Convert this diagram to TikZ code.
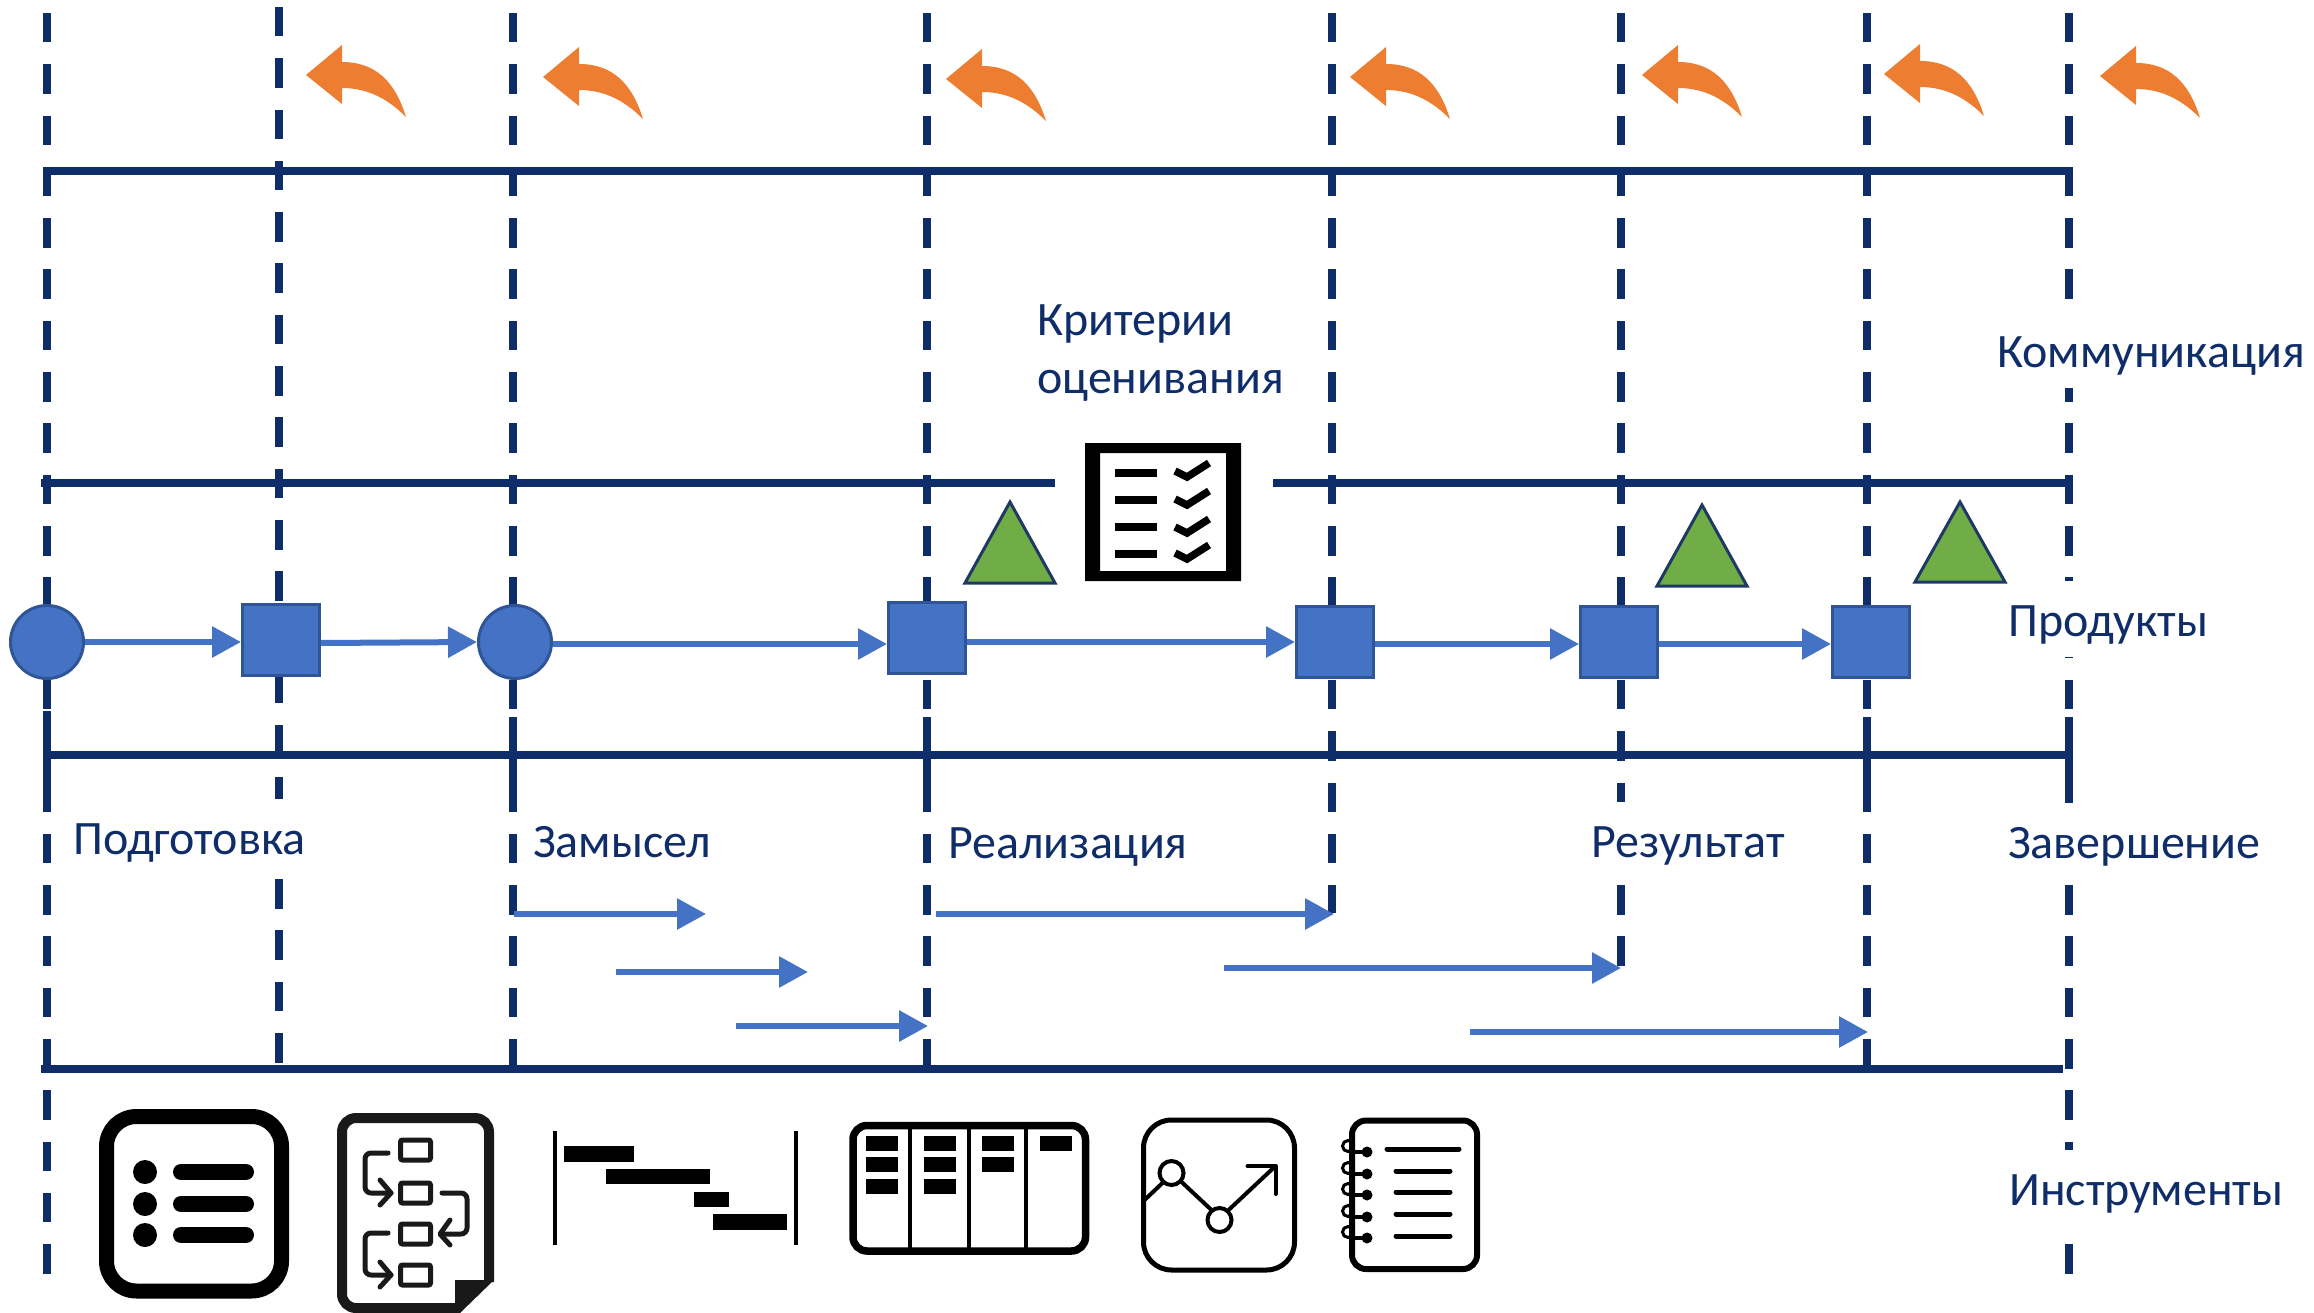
\documentclass[tikz,border=0pt]{standalone}
\usepackage{fontspec}
\setmainfont{Carlito}
\usetikzlibrary{arrows.meta}
\definecolor{navy}{HTML}{0F2D69}
\definecolor{flowblue}{HTML}{4472C4}
\definecolor{edgeblue}{HTML}{2F5597}
\definecolor{orangeback}{HTML}{ED7D31}
\definecolor{leaf}{HTML}{70AD47}
\definecolor{leafedge}{HTML}{1F3864}
\tikzset{
  dashline/.style={draw=navy,line width=8pt,dash pattern=on 29.5pt off 21.8pt},
  solidline/.style={draw=navy,line width=8pt},
  label/.style={text=navy,fill=white,inner sep=0pt,anchor=base west,text height=55pt,text depth=21pt,font=\fontsize{48}{56}\selectfont},
  plainlabel/.style={text=navy,inner sep=0pt,align=left,font=\fontsize{48}{58}\selectfont},
  squarenode/.style={draw=edgeblue,fill=flowblue,line width=3pt,rectangle,inner sep=0pt,minimum width=77pt,minimum height=71pt},
  circlenode/.style={draw=edgeblue,fill=flowblue,line width=3pt,circle,inner sep=0pt,minimum size=73pt},
  flow/.style={draw=flowblue,line width=6pt,-{Triangle[length=29pt,width=30pt]}},
  tri/.style={draw=leafedge,fill=leaf,line width=3pt,line join=miter},
  back/.style={fill=orangeback},
  ink/.style={draw=black,line cap=round,line join=round},
}
\newcommand{\backarrow}[2]{%
  \fill[back,shift={(#1-946,#2-79)}] (946,79) -- (982,49) -- (982,66)
    .. controls (1015,66) and (1035,85) .. (1046,121)
    .. controls (1030,105) and (1010,92) .. (982,92) -- (982,108) -- cycle;}
\begin{document}
\begin{tikzpicture}[x=1pt,y=-1pt]
\useasboundingbox (0,0) rectangle (2314,1313);
% vertical phase lines
\draw[dashline] (47,13) -- (47,1274);
\draw[dashline] (279,7) -- (279,1063);
\draw[dashline] (513,13) -- (513,1069);
\draw[dashline] (927,13) -- (927,1069);
\draw[dashline] (1332,13) -- (1332,913);
\draw[dashline] (1621,13) -- (1621,966);
\draw[dashline] (1867,13) -- (1867,1069);
\draw[dashline] (2069,13) -- (2069,1274);
% solid stubs
\draw[solidline] (47,711) -- (47,786);
\draw[solidline] (513,717) -- (513,792);
\draw[solidline] (927,717) -- (927,792);
\draw[solidline] (1867,717) -- (1867,792);
\draw[solidline] (2069,717) -- (2069,802);
% horizontal lines
\draw[solidline] (43,171) -- (2073,171);
\draw[solidline] (41,483) -- (1055,483);
\draw[solidline] (1273,483) -- (2073,483);
\draw[solidline] (47,755) -- (2073,755);
\draw[solidline] (41,1069) -- (2063,1069);
% labels
\node[label] (tcomm) at (1997,367) {Коммуникация};
\node[label] (tprod) at (2008,636) {Продукты};
\node[label] (tprep) at (73,854) {Подготовка};
\node[label] (tidea) at (533,857) {Замысел};
\node[label] (treal) at (948,858) {Реализация};
\node[label] (tres) at (1591,857) {Результат};
\node[label] (tend) at (2008,858) {Завершение};
\node[label] (ttool) at (2009,1205) {Инструменты};
\node[plainlabel,anchor=west] (tcrit) at (1037,353) {Критерии\\оценивания};
% back arrows
\backarrow{306}{75}
\backarrow{543}{77}
\backarrow{946}{79}
\backarrow{1350}{77}
\backarrow{1642}{75}
\backarrow{1884}{74}
\backarrow{2100}{76}
% triangles
\draw[tri] (1010,502) -- (1055,583) -- (965,583) -- cycle;
\draw[tri] (1702,505) -- (1747,586) -- (1657,586) -- cycle;
\draw[tri] (1960,502) -- (2005,582) -- (1915,582) -- cycle;
% process nodes
\node[circlenode] (c1) at (47,642) {};
\node[squarenode] (s1) at (281,640) {};
\node[circlenode] (c2) at (515,642) {};
\node[squarenode] (s2) at (927,638) {};
\node[squarenode] (s3) at (1335,642) {};
\node[squarenode] (s4) at (1619,642) {};
\node[squarenode] (s5) at (1871,642) {};
\draw[flow] (c1.east) -- ([yshift=-2pt]s1.west);
\draw[flow] ([yshift=-3pt]s1.east) -- (c2.west);
\draw[flow] ([yshift=-2pt]c2.east) -- ([yshift=-6pt]s2.west);
\draw[flow] ([yshift=-4pt]s2.east) -- (s3.west);
\draw[flow] ([yshift=-2pt]s3.east) -- ([yshift=-2pt]s4.west);
\draw[flow] ([yshift=-2pt]s4.east) -- ([yshift=-2pt]s5.west);
% lower arrows
\coordinate (a1s) at (514,914); \coordinate (a1e) at (706,914);
\coordinate (a2s) at (616,972); \coordinate (a2e) at (808,972);
\coordinate (a3s) at (736,1026); \coordinate (a3e) at (928,1026);
\coordinate (a4s) at (936,914); \coordinate (a4e) at (1334,914);
\coordinate (a5s) at (1224,968); \coordinate (a5e) at (1621,968);
\coordinate (a6s) at (1470,1032); \coordinate (a6e) at (1868,1032);
\draw[flow] (a1s) -- (a1e);
\draw[flow] (a2s) -- (a2e);
\draw[flow] (a3s) -- (a3e);
\draw[flow] (a4s) -- (a4e);
\draw[flow] (a5s) -- (a5e);
\draw[flow] (a6s) -- (a6e);
% checklist icon
\fill[black,even odd rule] (1085,443) rectangle (1241,581) (1100,453) rectangle (1226,571);
\foreach \yy/\cy in {473/0,500/28,527/56,554/82}{
  \fill[black] (1115,\yy-4) rectangle (1157,\yy+4);
  \draw[black,line width=7.5pt,line join=miter] (1175,471+\cy) -- (1187,477+\cy) -- (1209,463+\cy);
}
% list icon
\draw[black,line width=15pt,rounded corners=30pt] (106.5,1116.5) rectangle (281.5,1291);
\foreach \yy in {1172,1204,1235}{
  \fill[black] (145,\yy) circle (12);
  \draw[black,line width=16pt,line cap=round] (181,\yy) -- (246,\yy);
}
% flowchart document icon
\begin{scope}[xshift=-2pt]
\draw[color={black!90},line width=10pt,rounded corners=14pt] (462,1308) -- (344,1308) -- (344,1118) -- (491,1118) -- (491,1282);
\fill[black!90] (457,1280) -- (496,1280) -- (462,1313) -- (457,1313) -- cycle;
\foreach \yy in {1150,1193,1234,1275}{
  \draw[black!90,line width=5pt,rounded corners=2pt] (402.5,\yy-10) rectangle (432.5,\yy+10);
}
\draw[ink,black!90,line width=5pt,rounded corners=6pt] (390,1153) -- (367,1153) -- (367,1193) -- (393,1193);
\draw[ink,black!90,line width=5pt] (382,1180) -- (393,1193) -- (382,1205);
\draw[ink,black!90,line width=5pt,rounded corners=6pt] (444,1193) -- (469,1193) -- (469,1234) -- (443,1234);
\draw[ink,black!90,line width=5pt] (452,1220) -- (442,1234) -- (452,1245);
\draw[ink,black!90,line width=5pt,rounded corners=6pt] (390,1233) -- (367,1233) -- (367,1275) -- (393,1275);
\draw[ink,black!90,line width=5pt] (382,1262) -- (393,1275) -- (382,1287);
\end{scope}
% gantt icon
\begin{scope}[xshift=-3pt]
\draw[black,line width=4pt] (558,1131) -- (558,1245);
\draw[black,line width=4pt] (799,1131) -- (799,1245);
\fill[black] (567,1146) rectangle (637,1162);
\fill[black] (609,1169) rectangle (713,1184);
\fill[black] (697,1192) rectangle (732,1207);
\fill[black] (716,1214) rectangle (790,1230);
\end{scope}
% kanban icon
\begin{scope}[xshift=-1.5pt]
\draw[black,line width=7.5pt,rounded corners=14pt] (854.5,1125.5) rectangle (1087,1251);
\foreach \xx in {911.5,970,1027}{\draw[black,line width=4pt] (\xx,1125) -- (\xx,1251);}
\foreach \xx/\yy in {867/1136,867/1157,867/1179,925/1136,925/1157,925/1179,983/1136,983/1157,1041/1136}{
  \fill[black] (\xx,\yy) rectangle (\xx+32,\yy+14.5);
}
\end{scope}
% chart icon
\begin{scope}[xshift=-2.5pt]
\draw[black,line width=5pt,rounded corners=28pt] (1146,1120) rectangle (1297,1270);
\draw[black,line width=4pt] (1174,1173) circle (12);
\draw[black,line width=4pt] (1222,1220) circle (12);
\draw[black,line width=4pt] (1147,1200) -- (1166,1182);
\draw[black,line width=4pt] (1183,1181) -- (1214,1210);
\draw[black,line width=4pt] (1230,1211) -- (1278,1166);
\draw[ink,line width=4pt] (1250,1166) -- (1278,1166) -- (1278,1194);
\end{scope}
% notebook icon
\draw[black,line width=6pt,rounded corners=14pt] (1352,1120.5) rectangle (1477,1269);
\foreach \yy in {1152,1174,1195,1217,1238}{
  \draw[black,line width=3pt] (1348,\yy-6) circle (5.5);
  \draw[black,line width=4pt] (1352,\yy) -- (1367,\yy);
  \fill[black] (1367,\yy) circle (5.5);
}
\draw[ink,line width=5pt] (1387,1149) -- (1459,1149);
\foreach \yy in {1171,1192,1214,1236}{\draw[ink,line width=5pt] (1396,\yy) -- (1450,\yy);}
\end{tikzpicture}
\end{document}
